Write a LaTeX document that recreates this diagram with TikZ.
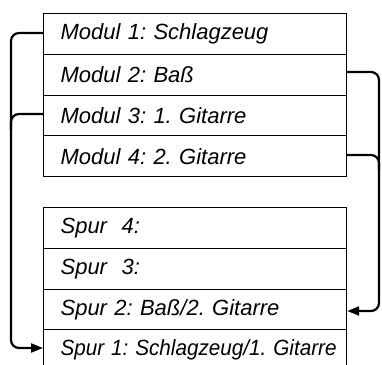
\documentclass[tikz,border=0pt]{standalone}
\usepackage{fontspec}
\setmainfont{Liberation Sans}
\usetikzlibrary{arrows.meta}
\begin{document}
\begin{tikzpicture}[x=1pt,y=-1pt,
  row/.style={draw,line width=1.2pt,rectangle,minimum width=303pt,minimum height=40.75pt,
    text width=269pt,inner xsep=17pt,align=left,anchor=north west,
    font=\fontsize{22}{26}\selectfont\itshape\frenchspacing},
  link/.style={line width=2.2pt,rounded corners=8pt},
  arr/.style={link,-{Triangle[length=12pt,width=9pt]}}]
\useasboundingbox (0,0) rectangle (382,364);
\begin{scope}
\clip (0,0) rectangle (382,364);
\node[row] (m1) at (43,13) {Modul 1: Schlagzeug};
\node[row] (m2) at (43,53.75) {Modul 2: Baß};
\node[row] (m3) at (43,94.5) {Modul 3: 1. Gitarre};
\node[row] (m4) at (43,135.25) {Modul 4: 2. Gitarre};
\node[row] (s4) at (43,207) {Spur~~4:};
\node[row] (s3) at (43,247.75) {Spur~~3:};
\node[row] (s2) at (43,288.5) {Spur 2: Baß/2. Gitarre};
\node[row] (s1) at (43,329.25) {\makebox[269pt][l]{\resizebox{276pt}{\height}{Spur 1: Schlagzeug/1. Gitarre}}};
\end{scope}
\coordinate (l1) at (11,33);
\coordinate (l2) at (11,348);
\coordinate (r1) at (379,72);
\coordinate (r2) at (379,311);
\draw[arr] (m1.west |- 0,33) -- (l1) -- (l2) -- (s1.west |- 0,348);
\draw[link] (m3.west |- 0,114) -- (11,114) -- (11,130);
\draw[arr] (m2.east |- 0,72) -- (r1) -- (r2) -- (s2.east |- 0,311);
\draw[link] (m4.east |- 0,155) -- (379,155) -- (379,171);
\end{tikzpicture}
\end{document}
